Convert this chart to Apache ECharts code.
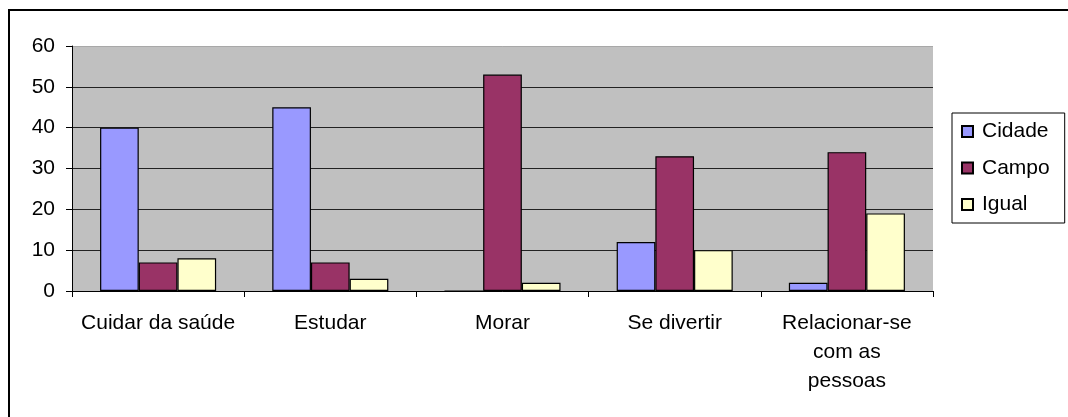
<!DOCTYPE html>
<html>
<head>
<meta charset="utf-8">
<script src="https://cdn.jsdelivr.net/npm/echarts@6/dist/echarts.min.js"></script>
<style>
  html, body { margin: 0; padding: 0; background: #fff; }
  #chart { width: 1068px; height: 417px; }
</style>
</head>
<body>
<div id="chart"></div>
<script>
// Activities and how respondents rated city vs. countryside for each
const categories = ['Cuidar da saúde', 'Estudar', 'Morar', 'Se divertir', 'Relacionar-se\ncom as\npessoas'];
const cidade = [40, 45, 0, 12, 2];
const campo = [7, 7, 53, 33, 34];
const igual = [8, 3, 2, 10, 19];
const yTicks = [0, 10, 20, 30, 40, 50, 60];

const FONT = "'Liberation Sans', Arial, sans-serif";
const chart = echarts.init(document.getElementById('chart'));

function barSeries(name, data, color) {
  return {
    name: name,
    type: 'bar',
    data: data,
    barGap: '0%',
    barCategoryGap: '32.6%',
    itemStyle: { color: color, borderColor: '#000', borderWidth: 1.2 },
    emphasis: { disabled: true }
  };
}

chart.setOption({
  animation: false,
  backgroundColor: '#fff',
  textStyle: { fontFamily: FONT, color: '#000' },
  grid: {
    left: 72, top: 46, right: 135, bottom: 126,
    show: true, backgroundColor: '#C0C0C0', borderWidth: 0
  },
  legend: {
    orient: 'vertical',
    left: 952, top: 113,
    padding: [8, 15, 8, 9],
    itemWidth: 11, itemHeight: 11, itemGap: 15.5,
    icon: 'rect',
    borderColor: '#000', borderWidth: 1,
    backgroundColor: '#fff',
    textStyle: { fontFamily: FONT, fontSize: 21, color: '#000', padding: [0, 0, 0, 4] },
    data: ['Cidade', 'Campo', 'Igual']
  },
  xAxis: {
    type: 'category',
    data: categories,
    axisLine: { lineStyle: { color: '#000', width: 1 } },
    axisTick: { show: true, length: 6, lineStyle: { color: '#000' } },
    axisLabel: {
      interval: 0, margin: 18, fontFamily: FONT, fontSize: 21, color: '#000',
      lineHeight: 29, align: 'center'
    }
  },
  yAxis: {
    type: 'value',
    min: yTicks[0], max: yTicks[yTicks.length - 1], interval: 10,
    axisLine: { show: true, lineStyle: { color: '#000', width: 1 } },
    axisTick: { show: true, length: 6, lineStyle: { color: '#000' } },
    axisLabel: { margin: 17, fontFamily: FONT, fontSize: 21, color: '#000' },
    splitLine: {
      show: true,
      lineStyle: { color: ['#222', '#222', '#222', '#222', '#222', '#222', '#A8A8A8'], width: 1 }
    }
  },
  graphic: [{
    type: 'rect',
    shape: { x: 9, y: 10, width: 1200, height: 600 },
    style: { fill: 'none', stroke: '#000', lineWidth: 2 },
    silent: true, z: 100
  }],
  series: [
    barSeries('Cidade', cidade, '#9999FF'),
    barSeries('Campo', campo, '#993366'),
    barSeries('Igual', igual, '#FFFFCC')
  ]
});
</script>
</body>
</html>
